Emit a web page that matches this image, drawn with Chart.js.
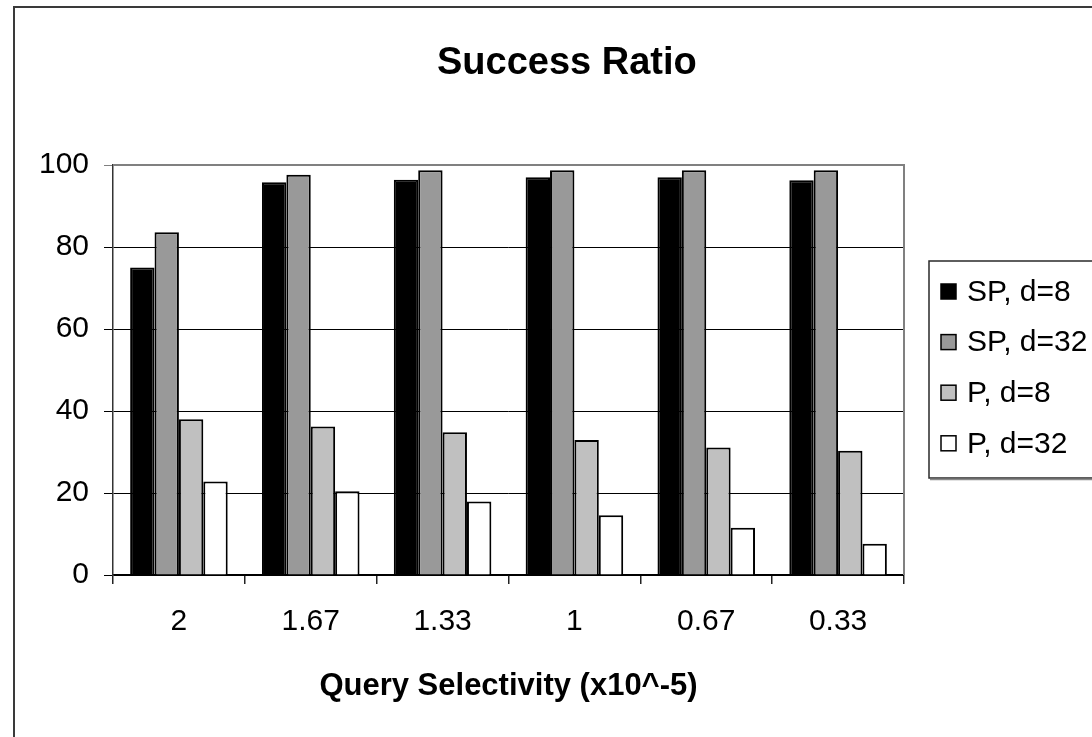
<!DOCTYPE html>
<html>
<head>
<meta charset="utf-8">
<script src="https://cdn.jsdelivr.net/npm/chart.js@4/dist/chart.umd.min.js"></script>
<style>
  html, body { margin: 0; padding: 0; background: #ffffff; }
  #wrap { width: 1092px; height: 737px; position: relative; }
</style>
</head>
<body>
<div id="wrap"><canvas id="c" width="1092" height="737"></canvas></div>
<script>
// Query selectivity buckets (x10^-5) and success ratios (%) per configuration
const categories = ['2', '1.67', '1.33', '1', '0.67', '0.33'];
const seriesNames = ['SP, d=8', 'SP, d=32', 'P, d=8', 'P, d=32'];
const spD8  = [75.0, 95.8, 96.4, 97.0, 97.0, 96.3];
const spD32 = [83.6, 97.6, 98.7, 98.7, 98.7, 98.7];
const pD8   = [38.0, 36.2, 34.8, 32.9, 31.1, 30.3];
const pD32  = [22.8, 20.4, 17.9, 14.6, 11.5, 7.6];
const yTickValues = [0, 20, 40, 60, 80, 100];

const chartTitle = 'Success Ratio';
const xTitle = 'Query Selectivity (x10^-5)';
const FONT = "'Liberation Sans', Arial, Helvetica, sans-serif";
const fills = ['#000000', '#999999', '#c0c0c0', '#ffffff'];
const seriesValues = [spD8, spD32, pD8, pD32];

// Outer frame (left and top edges), title, plot border and the boxed legend
const decorations = {
  id: 'decorations',
  beforeDraw(chart) {
    const ctx = chart.ctx;
    ctx.save();
    ctx.fillStyle = '#ffffff';
    ctx.fillRect(0, 0, chart.width, chart.height);
    ctx.strokeStyle = '#3a3a3a';
    ctx.lineWidth = 2;
    ctx.beginPath();
    ctx.moveTo(14, chart.height + 2);
    ctx.lineTo(14, 7);
    ctx.lineTo(chart.width + 2, 7);
    ctx.stroke();
    ctx.restore();
  },
  beforeDatasetsDraw(chart) {
    const ctx = chart.ctx;
    const a = chart.chartArea;
    ctx.save();
    ctx.strokeStyle = '#808080';
    ctx.lineWidth = 2;
    ctx.beginPath();
    ctx.moveTo(a.left, a.top);
    ctx.lineTo(a.right, a.top);
    ctx.lineTo(a.right, a.bottom);
    ctx.stroke();
    ctx.restore();
  },
  afterDraw(chart) {
    const ctx = chart.ctx;
    ctx.save();
    // title
    ctx.fillStyle = '#000000';
    ctx.font = 'bold 38px ' + FONT;
    ctx.textAlign = 'left';
    ctx.textBaseline = 'alphabetic';
    ctx.fillText(chartTitle, 437, 73.5);

    // legend frame, open at the right edge of the canvas
    const lx = 929, ly = 261, lb = 478;
    ctx.strokeStyle = '#2a2a2a';
    ctx.lineWidth = 1.5;
    ctx.beginPath();
    ctx.moveTo(chart.width + 2, ly);
    ctx.lineTo(lx, ly);
    ctx.lineTo(lx, lb);
    ctx.lineTo(chart.width + 2, lb);
    ctx.stroke();
    ctx.strokeStyle = '#8a8a8a';
    ctx.lineWidth = 1.5;
    ctx.beginPath();
    ctx.moveTo(lx + 1, lb + 1.5);
    ctx.lineTo(chart.width + 2, lb + 1.5);
    ctx.stroke();

    // legend entries
    ctx.font = '30px ' + FONT;
    ctx.textBaseline = 'middle';
    chart.data.datasets.forEach((ds, i) => {
      const cy = 291.5 + i * 50.6;
      ctx.fillStyle = ds.backgroundColor;
      ctx.fillRect(941, cy - 7.5, 15, 15);
      ctx.strokeStyle = '#000000';
      ctx.lineWidth = 1.5;
      ctx.strokeRect(941, cy - 7.5, 15, 15);
      ctx.fillStyle = '#000000';
      ctx.fillText(ds.label, 967, cy + 1);
    });
    ctx.restore();
  }
};

new Chart(document.getElementById('c'), {
  type: 'bar',
  data: {
    labels: categories,
    datasets: seriesNames.map((name, i) => ({
      label: name,
      data: seriesValues[i],
      backgroundColor: fills[i],
      borderColor: '#000000',
      borderWidth: 2,
      borderSkipped: 'bottom',
      categoryPercentage: 0.74,
      barPercentage: 1.0
    }))
  },
  options: {
    responsive: false,
    animation: false,
    devicePixelRatio: 1,
    layout: { padding: { left: 0, right: 188, top: 165, bottom: 32 } },
    plugins: {
      legend: { display: false },
      title: { display: false },
      tooltip: { enabled: false }
    },
    scales: {
      x: {
        offset: true,
        grid: {
          offset: true,
          drawOnChartArea: false,
          drawTicks: true,
          tickLength: 9,
          color: '#222222',
          lineWidth: 1.5
        },
        border: { color: '#000000', width: 1.5 },
        ticks: {
          color: '#000000',
          font: { family: FONT, size: 30 },
          padding: 20,
          maxRotation: 0,
          autoSkip: false
        },
        title: {
          display: true,
          text: xTitle,
          color: '#000000',
          font: { family: FONT, size: 31, weight: 'bold' },
          padding: { top: 27, bottom: 0 }
        },
        afterFit(scale) { scale.height = 130; }
      },
      y: {
        min: 0,
        max: 100,
        afterBuildTicks(scale) { scale.ticks = yTickValues.map(v => ({ value: v })); },
        grid: {
          color: (c) => (c.tick && c.tick.value === 100 ? '#808080' : '#000000'),
          lineWidth: 1,
          tickLength: 9,
          drawTicks: true
        },
        border: { color: '#333333', width: 1.5 },
        ticks: {
          color: '#000000',
          font: { family: FONT, size: 30 },
          padding: 15
        },
        afterFit(scale) { scale.width = 113; }
      }
    }
  },
  plugins: [decorations]
});
</script>
</body>
</html>
